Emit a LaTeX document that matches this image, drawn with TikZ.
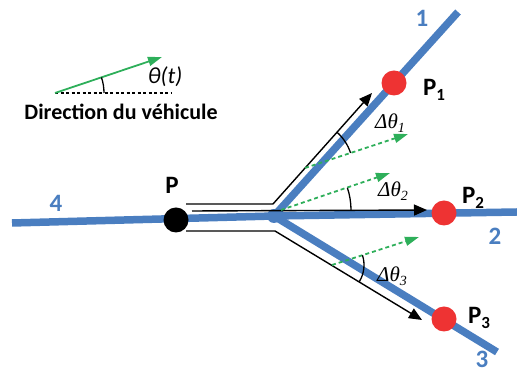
\documentclass[tikz,border=0pt]{standalone}
\usepackage{fontspec}
\setmainfont{Carlito}
\newfontfamily\serifit{Liberation Serif}
\usetikzlibrary{arrows.meta}
\definecolor{roadblue}{HTML}{4A7EC0}
\definecolor{ptred}{HTML}{EE3333}
\definecolor{grn}{HTML}{2EAF5A}
\tikzset{
  road/.style={line width=7.5pt, roadblue},
  pathline/.style={line width=1.4pt, black},
  patharrow/.style={pathline, -{Triangle[length=13pt,width=11pt]}},
  grnarrow/.style={grn, line width=1.8pt, dash pattern=on 4pt off 3pt, -{Triangle[length=14pt,width=9pt]}},
  anglearc/.style={black, line width=1.3pt},
  ptdot/.style={circle, fill=ptred, minimum size=25pt, inner sep=0pt},
  pdot/.style={circle, fill=black, minimum size=25pt, inner sep=0pt},
  ptlabel/.style={font=\fontsize{25}{25}\selectfont\bfseries},
  roadlabel/.style={font=\fontsize{25}{25}\selectfont\bfseries, text=roadblue, inner sep=1pt},
  dlabel/.style={font=\fontsize{21}{21}\selectfont\serifit\itshape},
}
\newcommand{\Psub}[1]{P\raisebox{-0.45ex}{\fontsize{17}{17}\selectfont #1}}
\newcommand{\Dth}[1]{Δθ\raisebox{-0.45ex}{\fontsize{14}{14}\selectfont #1}}
\begin{document}
\begin{tikzpicture}[x=1pt,y=1pt]
\useasboundingbox (0,0) rectangle (517,374);
% road geometry
\coordinate (J) at (274,158);
\coordinate (E4) at (12,151);
\coordinate (E2) at (517,162);
\coordinate (E1) at (458,362);
\coordinate (E3) at (497,22);
\draw[road] (E4) -- (J) -- (E2);
\draw[road] (J) -- (E1);
\draw[road] (J) -- (E3);
\fill[roadblue] (J) circle (7pt);
% path lines
\coordinate (U0) at (186,170);
\coordinate (U1) at (273,170);
\coordinate (U2) at (372,281);
\coordinate (M0) at (192,163);
\coordinate (M2) at (427,164);
\coordinate (L0) at (186,143);
\coordinate (L1) at (275,143);
\coordinate (L2) at (422,54);
\draw[patharrow] (U0) -- (U1) -- (U2);
\draw[patharrow] (M0) -- (M2);
\draw[patharrow] (L0) -- (L1) -- (L2);
% green directions
\coordinate (G1s) at (305,206);
\coordinate (G1e) at (408,240);
\coordinate (G2s) at (281,164);
\coordinate (G2e) at (390,201);
\coordinate (G3s) at (332,109);
\coordinate (G3e) at (419,137);
\draw[grnarrow] (G1s) -- (G1e);
\draw[grnarrow] (G2s) -- (G2e);
\draw[grnarrow] (G3s) -- (G3e);
% angle arcs
\draw[anglearc] ([shift={(48.3:48)}]G1s) arc[start angle=48.3, end angle=18.3, radius=48];
\draw[anglearc] ([shift={(0:70)}]G2s) arc[start angle=0, end angle=18.5, radius=70];
\draw[anglearc] ([shift={(-31.2:32)}]G3s) arc[start angle=-31.2, end angle=17.8, radius=32];
% points
\node[pdot] (P) at (176,154) {};
\node[ptdot] (P1) at (394,291) {};
\node[ptdot] (P2) at (444,161) {};
\node[ptdot] (P3) at (444,55) {};
% labels
\node[ptlabel] (lP) at (172,189) {P};
\node[ptlabel] (lP1) at (434,284) {\Psub{1}};
\node[ptlabel] (lP2) at (473,176) {\Psub{2}};
\node[ptlabel] (lP3) at (479,56) {\Psub{3}};
\node[roadlabel] (r1) at (422,356) {1};
\node[roadlabel] (r2) at (495,138) {2};
\node[roadlabel] (r3) at (482,15) {3};
\node[roadlabel] (r4) at (56,171) {4};
\node[dlabel] (d1) at (390,251) {\Dth{1}};
\node[dlabel] (d2) at (393,183) {\Dth{2}};
\node[dlabel] (d3) at (392,98) {\Dth{3}};
% legend
\coordinate (Ls) at (55,281);
\coordinate (Le) at (162,317);
\coordinate (Ld) at (172,281);
\draw[black, line width=1.2pt, dash pattern=on 3pt off 2.5pt] (Ls) -- (Ld);
\draw[grn, line width=1.8pt, -{Triangle[length=14pt,width=9pt]}] (Ls) -- (Le);
\draw[anglearc] ([shift={(0:49)}]Ls) arc[start angle=0, end angle=18.6, radius=49];
\node[font=\fontsize{23}{23}\selectfont\itshape] (th) at (165,297) {θ(t)};
\node[font=\fontsize{22}{22}\selectfont\bfseries] (dir) at (121,262) {Direction du véhicule};
\end{tikzpicture}
\end{document}
